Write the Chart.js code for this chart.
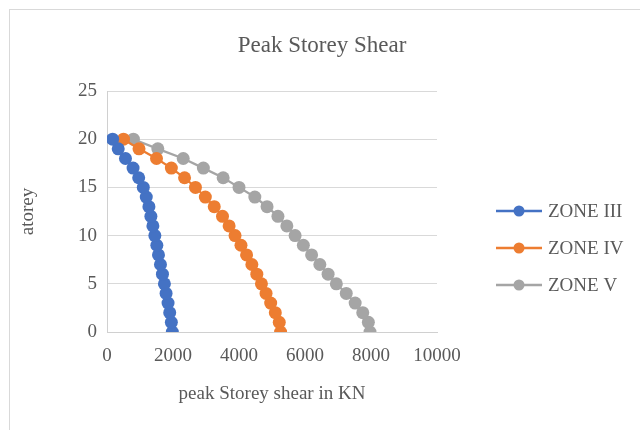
<!DOCTYPE html>
<html>
<head>
<meta charset="utf-8">
<script src="https://cdn.jsdelivr.net/npm/chart.js@4/dist/chart.umd.min.js"></script>
<style>
  html, body { margin: 0; padding: 0; background: #fff; }
  #wrap { width: 640px; height: 430px; }
</style>
</head>
<body>
<div id="wrap"><canvas id="shearChart" width="640" height="430"></canvas></div>
<script>
// storey numbers (ground = 0, roof = 20)
const storeys = [0, 1, 2, 3, 4, 5, 6, 7, 8, 9, 10, 11, 12, 13, 14, 15, 16, 17, 18, 19, 20];

// peak storey shear in kN, listed from storey 0 up to storey 20
const zoneIII = [1980, 1950, 1900, 1850, 1790, 1740, 1680, 1620, 1560, 1510, 1450, 1390, 1330, 1270, 1190, 1100, 960, 790, 560, 340, 170];
const zoneIV  = [5260, 5220, 5100, 4960, 4820, 4680, 4540, 4390, 4230, 4060, 3880, 3700, 3500, 3250, 2980, 2680, 2350, 1950, 1500, 970, 500];
const zoneV   = [7970, 7920, 7750, 7520, 7250, 6950, 6700, 6450, 6200, 5950, 5700, 5450, 5180, 4850, 4480, 4000, 3520, 2920, 2310, 1540, 800];

const seriesNames = ['ZONE III', 'ZONE IV', 'ZONE V'];
const seriesColors = ['#4472C4', '#ED7D31', '#A5A5A5'];

const chartTitle = 'Peak Storey Shear';
const xTitle = 'peak Storey shear in KN';
const yTitle = 'atorey';

const textColor = '#595959';
const serif = '"Liberation Serif", "Times New Roman", serif';

function toPoints(values) {
    return values.map((v, i) => ({ x: v, y: storeys[i] }));
}

const datasets = [zoneIII, zoneIV, zoneV].map((vals, i) => ({
    label: seriesNames[i],
    data: toPoints(vals),
    showLine: true,
    borderColor: seriesColors[i],
    backgroundColor: seriesColors[i],
    borderWidth: 2.25,
    pointRadius: 6.5,
    pointBorderWidth: 0,
    pointHoverRadius: 6.5
}));

// outer frame, title and the right-hand legend
const decorations = {
    id: 'decorations',
    beforeDraw(chart) {
        const ctx = chart.ctx;
        ctx.save();
        ctx.fillStyle = '#fff';
        ctx.fillRect(0, 0, chart.width, chart.height);
        ctx.strokeStyle = '#d9d9d9';
        ctx.lineWidth = 1;
        ctx.strokeRect(9.5, 9.5, chart.width + 20, chart.height + 20);
        ctx.restore();
    },
    afterDraw(chart) {
        const ctx = chart.ctx;
        ctx.save();
        ctx.fillStyle = textColor;
        ctx.font = '23px ' + serif;
        ctx.textAlign = 'center';
        ctx.textBaseline = 'middle';
        ctx.fillText(chartTitle, 322, 46);

        ctx.font = '19px ' + serif;
        ctx.textAlign = 'left';
        chart.data.datasets.forEach((ds, i) => {
            const y = 211 + i * 37;
            ctx.strokeStyle = ds.borderColor;
            ctx.lineWidth = 2.5;
            ctx.beginPath();
            ctx.moveTo(496, y);
            ctx.lineTo(542, y);
            ctx.stroke();
            ctx.fillStyle = ds.backgroundColor;
            ctx.beginPath();
            ctx.arc(519, y, 5.5, 0, Math.PI * 2);
            ctx.fill();
            ctx.fillStyle = textColor;
            ctx.fillText(ds.label, 548, y + 1);
        });
        ctx.restore();
    }
};

const ctx = document.getElementById('shearChart').getContext('2d');
new Chart(ctx, {
    type: 'scatter',
    data: { datasets: datasets },
    plugins: [decorations],
    options: {
        responsive: false,
        animation: false,
        layout: { padding: { left: 10, top: 91, right: 203, bottom: 23 } },
        plugins: {
            legend: { display: false },
            title: { display: false },
            tooltip: { enabled: false }
        },
        scales: {
            x: {
                type: 'linear',
                min: 0,
                max: 10000,
                ticks: {
                    stepSize: 2000,
                    padding: 13,
                    color: textColor,
                    font: { family: serif, size: 19 },
                    callback: (v) => String(v)
                },
                grid: { display: false, drawTicks: false },
                border: { display: true, color: '#d0d0d0', width: 1 },
                title: {
                    display: true,
                    text: xTitle,
                    color: textColor,
                    font: { family: serif, size: 19 },
                    padding: { top: 0, bottom: 2 }
                },
                afterFit(scale) { scale.height = 75; }
            },
            y: {
                type: 'linear',
                min: 0,
                max: 25,
                ticks: {
                    stepSize: 5,
                    padding: 10,
                    color: textColor,
                    font: { family: serif, size: 19 },
                    callback: (v) => String(v)
                },
                grid: { color: '#d9d9d9', lineWidth: 1, drawTicks: false },
                border: { display: true, color: '#d0d0d0', width: 1 },
                title: {
                    display: true,
                    text: yTitle,
                    color: textColor,
                    font: { family: serif, size: 19 },
                    padding: { top: 7, bottom: 0 }
                },
                afterFit(scale) { scale.width = 97; }
            }
        }
    }
});
</script>
</body>
</html>
